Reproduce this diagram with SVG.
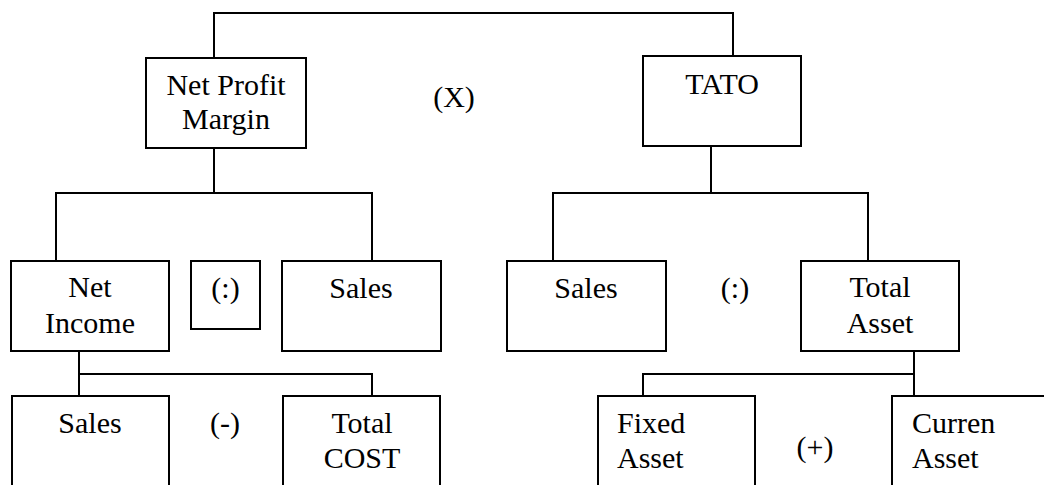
<svg xmlns="http://www.w3.org/2000/svg" width="1044" height="485" viewBox="0 0 1044 485">
<style>
.box{fill:#fff;stroke:#000;stroke-width:2}
.ln{fill:none;stroke:#000;stroke-width:2}
text{font-family:"Liberation Serif","Times New Roman",serif;font-size:30px;fill:#000}
.c{text-anchor:middle}
</style>
<rect width="1044" height="485" fill="#fff"/>
<g id="connectors">
<polyline class="ln" points="214,58 214,13 733,13 733,56"/>
<line class="ln" x1="214" y1="148" x2="214" y2="193"/>
<polyline class="ln" points="56,261 56,193 372,193 372,261"/>
<line class="ln" x1="711" y1="146" x2="711" y2="193"/>
<polyline class="ln" points="553,261 553,193 868,193 868,261"/>
<line class="ln" x1="79" y1="351" x2="79" y2="374"/>
<polyline class="ln" points="79,396 79,374 372,374 372,396"/>
<line class="ln" x1="914" y1="351" x2="914" y2="396"/>
<polyline class="ln" points="643,396 643,374 914,374"/>
</g>
<g id="npm"><rect class="box" x="146" y="58" width="160" height="90"/><text class="c" x="226" y="95">Net Profit</text><text class="c" x="226" y="129">Margin</text></g>
<g id="times"><text class="c" x="454" y="107">(X)</text></g>
<g id="tato"><rect class="box" x="643" y="56" width="158" height="90"/><text class="c" x="722" y="94">TATO</text></g>
<g id="netincome"><rect class="box" x="11" y="261" width="158" height="90"/><text class="c" x="90" y="297">Net</text><text class="c" x="90" y="333">Income</text></g>
<g id="div1"><rect class="box" x="191" y="261" width="69" height="68"/><text class="c" x="225.5" y="298">(:)</text></g>
<g id="sales1"><rect class="box" x="282" y="261" width="159" height="90"/><text class="c" x="361" y="298">Sales</text></g>
<g id="sales2"><rect class="box" x="507" y="261" width="159" height="90"/><text class="c" x="586" y="298">Sales</text></g>
<g id="div2"><text class="c" x="735" y="298">(:)</text></g>
<g id="totalasset"><rect class="box" x="801" y="261" width="158" height="90"/><text class="c" x="880" y="297">Total</text><text class="c" x="880" y="333">Asset</text></g>
<g id="sales3"><rect class="box" x="12" y="396" width="157" height="100"/><text class="c" x="90" y="433">Sales</text></g>
<g id="minus"><text class="c" x="225" y="433">(-)</text></g>
<g id="totalcost"><rect class="box" x="283" y="396" width="157" height="100"/><text class="c" x="362" y="433">Total</text><text class="c" x="362" y="468">COST</text></g>
<g id="fixedasset"><rect class="box" x="598" y="396" width="157" height="100"/><text x="617" y="433">Fixed</text><text x="617" y="468">Asset</text></g>
<g id="plus"><text class="c" x="815" y="457">(+)</text></g>
<g id="currenasset"><rect class="box" x="892" y="396" width="170" height="100"/><text x="912" y="433">Curren</text><text x="912" y="468">Asset</text></g>
</svg>
